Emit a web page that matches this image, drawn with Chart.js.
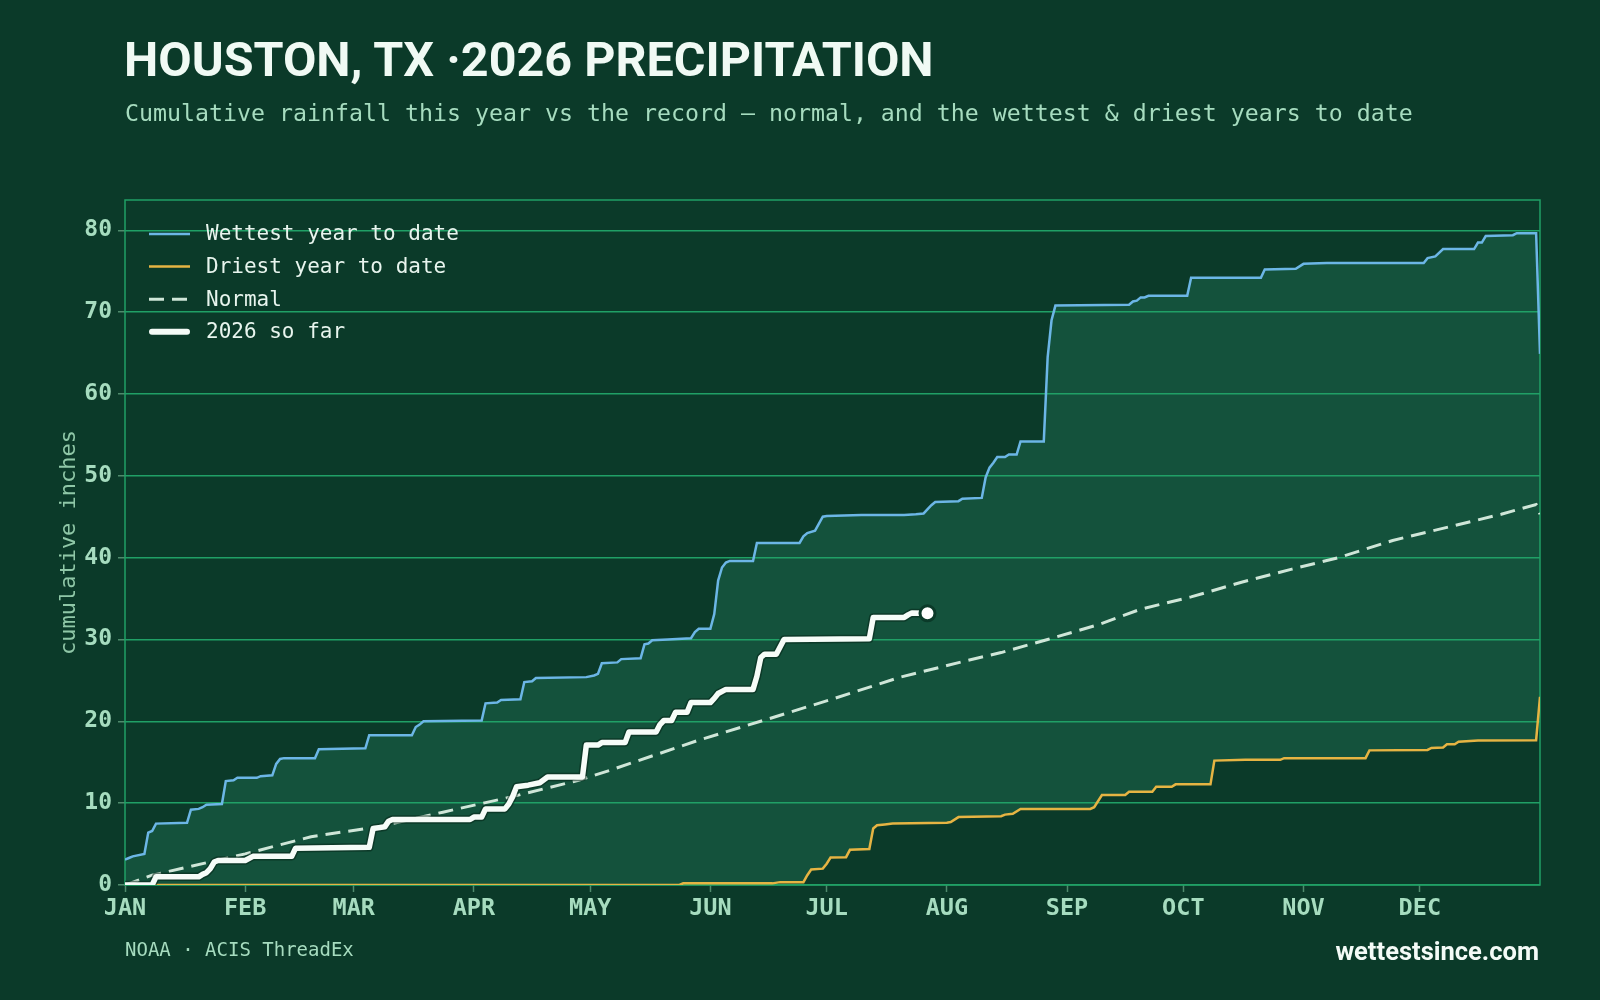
<!DOCTYPE html>
<html>
<head>
<meta charset="utf-8">
<title>Houston, TX 2026 precipitation</title>
<script src="https://cdn.jsdelivr.net/npm/chart.js@4.4.1/dist/chart.umd.min.js"></script>
<style>
  html, body { margin: 0; padding: 0; background: #0b3a29; }
  #wrap { position: relative; width: 1600px; height: 1000px; overflow: hidden; background: #0b3a29; }
  #chart { position: absolute; left: 0; top: 0; }
  .txt { position: absolute; white-space: nowrap; line-height: 1; }
  .title { left: 124px; top: 31px; font: 700 48.5px Roboto, sans-serif; color: #f0faf4; }
  .subtitle { left: 125px; top: 99px; font: 23.25px 'DejaVu Sans Mono', monospace; color: #a6dcbf; }
  .source { left: 125px; top: 938px; font: 19px 'DejaVu Sans Mono', monospace; color: #a6dcbf; }
  .brand { right: 61px; top: 936px; font: 700 25.5px Roboto, sans-serif; color: #f4fbf7; }
</style>
</head>
<body>
<div id="wrap">
  <canvas id="chart" width="1600" height="1000"></canvas>
  <div class="txt title">HOUSTON, TX ·2026 PRECIPITATION</div>
  <div class="txt subtitle">Cumulative rainfall this year vs the record — normal, and the wettest &amp; driest years to date</div>
  <div class="txt source">NOAA · ACIS ThreadEx</div>
  <div class="txt brand">wettestsince.com</div>
</div>
<script>
'use strict';

// x axis is day of year (0 = Jan 1)
var monthLabels = ['JAN', 'FEB', 'MAR', 'APR', 'MAY', 'JUN', 'JUL', 'AUG', 'SEP', 'OCT', 'NOV', 'DEC'];
var monthStartDays = [0, 31, 59, 90, 120, 151, 181, 212, 243, 273, 304, 334];
var yTickValues = [0, 10, 20, 30, 40, 50, 60, 70, 80];

// wettest year to date (at each change)
var wettestDays = [0, 1, 2, 5, 6, 7, 8, 16, 17, 19, 20, 21, 25, 26, 28, 29, 34, 35, 38, 39, 40, 41, 49, 50, 62, 63,
    74, 75, 76, 77, 92, 93, 96, 97, 102, 103, 105, 106, 119, 121, 122, 123, 127, 128, 133, 134, 135, 136, 140, 146,
    147, 148, 151, 152, 153, 154, 155, 156, 162, 163, 174, 175, 176, 178, 180, 181, 190, 201, 204, 206, 208, 209,
    215, 216, 221, 222, 223, 224, 225, 227, 228, 230, 231, 237, 238, 239, 240, 259, 260, 261, 262, 263, 264, 274,
    275, 293, 294, 302, 304, 310, 335, 336, 338, 340, 348, 349, 350, 351, 358, 359, 364, 365];
var wettestInches = [3.1, 3.3, 3.5, 3.8, 6.4, 6.6, 7.5, 7.6, 9.2, 9.3, 9.5, 9.8, 9.9, 12.7, 12.8, 13.1, 13.1, 13.3,
    13.4, 14.8, 15.4, 15.5, 15.5, 16.6, 16.7, 18.3, 18.3, 19.3, 19.6, 20.0, 20.1, 22.2, 22.3, 22.6, 22.7, 24.8, 24.9,
    25.3, 25.4, 25.6, 25.8, 27.1, 27.2, 27.6, 27.7, 29.4, 29.5, 29.9, 30.0, 30.15, 30.9, 31.3, 31.3, 33.1, 37.2,
    38.8, 39.4, 39.6, 39.6, 41.8, 41.8, 42.6, 43.0, 43.3, 45.0, 45.1, 45.2, 45.2, 45.3, 45.4, 46.4, 46.8, 46.9,
    47.2, 47.3, 49.8, 51.0, 51.6, 52.3, 52.3, 52.6, 52.6, 54.2, 54.2, 64.5, 69.0, 70.8, 70.9, 71.3, 71.4, 71.8,
    71.8, 72.0, 72.0, 74.2, 74.2, 75.2, 75.3, 75.9, 76.0, 76.0, 76.6, 76.8, 77.7, 77.7, 78.5, 78.5, 79.3, 79.4,
    79.65, 79.65, 64.9];

// driest year to date
var driestDays = [0, 143, 144, 167, 169, 175, 176, 177, 180, 181, 182, 186, 187, 192, 193, 194, 196, 198, 212, 213,
    215, 226, 227, 229, 231, 249, 250, 252, 258, 259, 265, 266, 270, 271, 280, 281, 289, 298, 299, 320, 321, 336,
    337, 340, 341, 343, 344, 349, 364, 365];
var driestInches = [0, 0, 0.2, 0.2, 0.35, 0.35, 1.2, 1.9, 2.0, 2.6, 3.35, 3.4, 4.3, 4.4, 6.9, 7.3, 7.4, 7.5, 7.6,
    7.7, 8.3, 8.4, 8.6, 8.7, 9.3, 9.3, 9.5, 11.0, 11.0, 11.4, 11.4, 12.0, 12.0, 12.3, 12.3, 15.2, 15.3, 15.3, 15.5,
    15.5, 16.45, 16.5, 16.75, 16.8, 17.2, 17.2, 17.5, 17.65, 17.7, 23.0];

// normal (long-term average) to date
var normalDays = [0, 7, 31, 48, 65, 82, 99, 117, 125, 148, 166, 183, 200, 217, 226, 238, 251, 262, 275, 288, 301,
    313, 327, 341, 355, 364, 365];
var normalInches = [0, 1.2, 3.8, 5.9, 7.1, 8.9, 10.7, 12.8, 14.0, 17.7, 20.3, 22.8, 25.4, 27.4, 28.4, 30.0, 31.8,
    33.7, 35.2, 37.0, 38.6, 40.0, 42.1, 43.7, 45.3, 46.5, 45.3];

// 2026 so far
var thisYearDays = [0, 7, 8, 19, 20, 21, 22, 23, 24, 31, 33, 43, 44, 63, 64, 67, 68, 69, 89, 90, 92, 93, 98, 99, 100,
    101, 104, 107, 109, 118, 119, 122, 123, 129, 130, 137, 138, 139, 141, 142, 145, 146, 151, 152, 153, 155, 162,
    163, 164, 165, 168, 170, 192, 193, 201, 202, 203, 207];
var thisYearInches = [0, 0, 1.0, 1.0, 1.3, 1.5, 2.0, 2.8, 3.0, 3.0, 3.5, 3.5, 4.5, 4.6, 6.9, 7.1, 7.8, 8.0, 8.0,
    8.3, 8.3, 9.3, 9.3, 9.9, 10.8, 12.0, 12.2, 12.5, 13.2, 13.2, 17.1, 17.1, 17.4, 17.4, 18.7, 18.7, 19.6, 20.1,
    20.1, 21.1, 21.1, 22.3, 22.3, 22.8, 23.4, 23.9, 23.9, 25.5, 27.8, 28.2, 28.2, 30.0, 30.1, 32.7, 32.7, 33.0,
    33.25, 33.2];

function toPoints(days, vals) {
    return days.map(function (d, i) { return { x: d, y: vals[i] }; });
}

var gridGreen = '#20a066';
var tickMark = '#4f8a6c';
var mint = '#a6dcbf';

var legendItems = [
    { label: 'Wettest year to date', color: '#6cb6e6', width: 2.5, dash: [] },
    { label: 'Driest year to date', color: '#e6b443', width: 2.5, dash: [] },
    { label: 'Normal', color: '#cfe6d8', width: 3, dash: [15, 8] },
    { label: '2026 so far', color: '#f4fbf6', width: 6, dash: [] }
];

// frame round the plot area, under the lines
var frame = {
    id: 'frame',
    beforeDatasetsDraw: function (chart) {
        var a = chart.chartArea, ctx = chart.ctx;
        ctx.save();
        ctx.strokeStyle = gridGreen;
        ctx.lineWidth = 1.5;
        ctx.strokeRect(a.left, a.top, a.right - a.left, a.bottom - a.top);
        ctx.restore();
    }
};

// legend sits inside the plot, top left
var insideLegend = {
    id: 'insideLegend',
    afterDatasetsDraw: function (chart) {
        var ctx = chart.ctx;
        ctx.save();
        ctx.font = '21px "DejaVu Sans Mono"';
        ctx.textBaseline = 'middle';
        legendItems.forEach(function (it, i) {
            var y = 234 + i * 32.6;
            ctx.beginPath();
            ctx.strokeStyle = it.color;
            ctx.lineWidth = it.width;
            ctx.lineCap = it.width > 4 ? 'round' : 'butt';
            ctx.setLineDash(it.dash);
            ctx.moveTo(it.width > 4 ? 152 : 149, y);
            ctx.lineTo(it.width > 4 ? 187 : 190, y);
            ctx.stroke();
            ctx.setLineDash([]);
            ctx.fillStyle = '#e8f5ee';
            ctx.fillText(it.label, 206, y + 1);
        });
        ctx.restore();
    }
};

var lastIdx = thisYearDays.length - 1;

new Chart(document.getElementById('chart'), {
    type: 'line',
    data: {
        datasets: [{
            label: '2026 so far',
            data: toPoints(thisYearDays, thisYearInches),
            borderColor: '#f6fcf8',
            borderWidth: 5.5,
            borderJoinStyle: 'round',
            borderCapStyle: 'round',
            pointRadius: function (c) { return c.dataIndex === lastIdx ? 7.5 : 0; },
            pointBackgroundColor: '#ffffff',
            pointBorderColor: '#0b3a29',
            pointBorderWidth: 3,
            fill: false
        }, {
            // dark edge under this year's line
            label: 'edge',
            data: toPoints(thisYearDays, thisYearInches),
            borderColor: 'rgba(6, 36, 24, 0.55)',
            borderWidth: 8.5,
            borderJoinStyle: 'round',
            borderCapStyle: 'round',
            pointRadius: 0,
            fill: false
        }, {
            label: 'Normal',
            data: toPoints(normalDays, normalInches),
            borderColor: '#cfe6d8',
            borderWidth: 3,
            borderDash: [15, 8],
            pointRadius: 0,
            fill: false
        }, {
            label: 'Wettest year to date',
            data: toPoints(wettestDays, wettestInches),
            borderColor: '#6cb6e6',
            borderWidth: 2.5,
            pointRadius: 0,
            fill: { target: 4 },
            backgroundColor: '#14523c'
        }, {
            label: 'Driest year to date',
            data: toPoints(driestDays, driestInches),
            borderColor: '#e6b443',
            borderWidth: 2.5,
            pointRadius: 0,
            fill: false
        }]
    },
    options: {
        responsive: false,
        animation: false,
        events: [],
        layout: { padding: { left: 0, right: 60, top: 200, bottom: 75 } },
        scales: {
            x: {
                type: 'linear',
                min: 0,
                max: 365,
                afterFit: function (s) { s.height = 40; },
                afterBuildTicks: function (s) {
                    s.ticks = monthStartDays.map(function (d) { return { value: d }; });
                },
                grid: { drawOnChartArea: false, tickLength: 7, tickColor: tickMark, tickWidth: 1.5 },
                border: { display: false },
                ticks: {
                    autoSkip: false,
                    maxRotation: 0,
                    padding: 3,
                    color: mint,
                    font: { family: 'DejaVu Sans Mono', size: 23.5, weight: 'bold' },
                    callback: function (v, i) { return monthLabels[i]; }
                }
            },
            y: {
                min: 0,
                max: 83.7,
                afterFit: function (s) { s.width = 125; },
                afterBuildTicks: function (s) {
                    s.ticks = yTickValues.map(function (v) { return { value: v }; });
                },
                grid: { color: gridGreen, lineWidth: 1.5, tickLength: 7, tickColor: tickMark },
                border: { display: false },
                ticks: {
                    padding: 6,
                    color: mint,
                    font: { family: 'DejaVu Sans Mono', size: 23, weight: 'bold' }
                },
                title: {
                    display: true,
                    text: 'cumulative inches',
                    color: '#8fc7a7',
                    padding: { top: 56, bottom: 0 },
                    font: { family: 'DejaVu Sans Mono', size: 22 }
                }
            }
        },
        plugins: {
            legend: { display: false },
            tooltip: { enabled: false },
            filler: { drawTime: 'beforeDraw' }
        }
    },
    plugins: [frame, insideLegend]
});
</script>
</body>
</html>
